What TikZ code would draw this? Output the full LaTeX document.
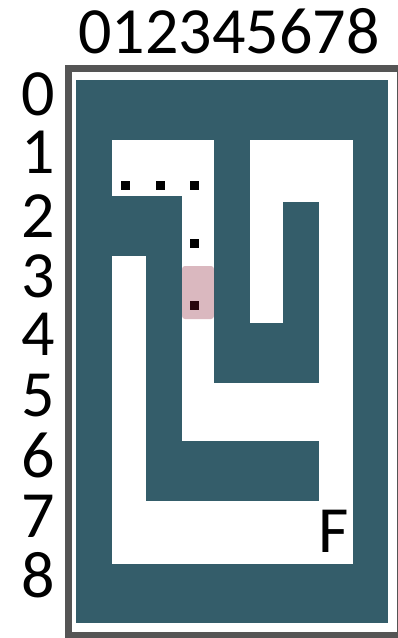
\documentclass[tikz,border=0pt]{standalone}
\usepackage{fontspec}
\setmainfont{Carlito}
\definecolor{wallc}{RGB}{52,93,106}
\definecolor{framec}{RGB}{85,85,85}
\definecolor{herec}{RGB}{134,20,45}

\begin{document}
\begin{tikzpicture}[x=1pt,y=-1pt,
  lbl/.style={inner sep=0pt,text height=42pt,text depth=0pt,font=\fontsize{66}{70}\selectfont},
  wall/.style={fill=wallc},
  open/.style={fill=white},
  dotbox/.style={fill=black,minimum size=9pt,inner sep=0pt}]
\useasboundingbox (0,0) rectangle (398,638);
\clip (0,0) rectangle (398,638);

% frame
\draw[framec,line width=7pt] (68.5,68.5) rectangle (400.5,635.5);

% walls, then the open corridors
\path[wall] (76,80) rectangle (388,623);
\path[open] (112,140) rectangle (214,196);
\path[open] (182,140) rectangle (214,441);
\path[open] (250,140) rectangle (353,202);
\path[open] (250,202) rectangle (283,323);
\path[open] (319,140) rectangle (353,564);
\path[open] (112,256) rectangle (146,564);
\path[open] (182,383) rectangle (353,441);
\path[open] (112,501) rectangle (353,564);

% path so far
\node[dotbox] (p1) at (125.5,185.5) {};
\node[dotbox] (p2) at (160.5,185.5) {};
\node[dotbox] (p3) at (194.5,185.5) {};
\node[dotbox] (p4) at (194.5,243.5) {};
\node[dotbox] (p5) at (194.5,305.5) {};

% current cell
\fill[herec,fill opacity=0.3,rounded corners=3pt] (182,266) rectangle (214,319);

% goal
\node[lbl] (goal) at (333.5,531) {F};

% labels
\node[lbl] (cols) at (229,32.5) {012345678};
\node[lbl] (r0) at (38,94) {0};
\node[lbl] (r1) at (38,152) {1};
\node[lbl] (r2) at (38,216) {2};
\node[lbl] (r3) at (38,276) {3};
\node[lbl] (r4) at (38,334) {4};
\node[lbl] (r5) at (38,395) {5};
\node[lbl] (r6) at (38,456) {6};
\node[lbl] (r7) at (38,516) {7};
\node[lbl] (r8) at (38,576) {8};
\end{tikzpicture}
\end{document}
